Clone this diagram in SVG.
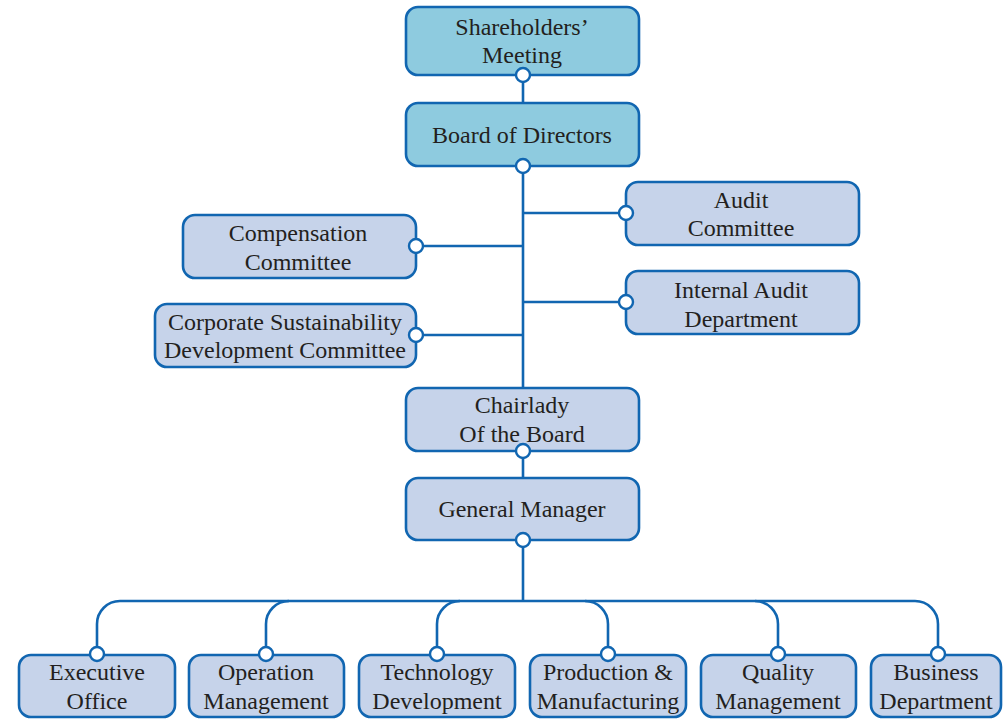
<svg xmlns="http://www.w3.org/2000/svg" width="1008" height="719" viewBox="0 0 1008 719">
<style>
.box{fill:#c6d3ea;stroke:#1166b1;stroke-width:2.6}
.top{fill:#8ecbdf}
.dot{fill:#fff;stroke:#1166b1;stroke-width:2.4}
.ln{fill:none;stroke:#1166b1;stroke-width:2.6}
text{font-family:"Liberation Serif","Times New Roman",serif;font-size:24px;fill:#231f20;text-anchor:middle}
</style>
<rect width="1008" height="719" fill="#fff"/>
<g id="connectors">
<path class="ln" d="M523,75 V103 M523,166 V388 M523,213 H626 M523,302 H626 M416,246 H523 M416,335 H523 M523,451 V478 M523,540 V601"/>
<path class="ln" d="M97,655 V624 A23,23 0 0 1 120,601 H915 A23,23 0 0 1 938,624 V655"/>
<path class="ln" d="M266,655 V624 A23,23 0 0 1 289,601 M437,655 V624 A23,23 0 0 1 460,601 M608,655 V624 A23,23 0 0 0 585,601 M778,655 V624 A23,23 0 0 0 755,601"/>
</g>
<g id="shareholders"><rect class="box top" x="406" y="7" width="233" height="68" rx="12"/><text x="522" y="35">Shareholders’</text><text x="522" y="63">Meeting</text><circle class="dot" cx="523" cy="75" r="7"/></g>
<g id="board"><rect class="box top" x="406" y="103" width="233" height="63" rx="12"/><text x="522" y="143">Board of Directors</text><circle class="dot" cx="523" cy="166" r="7"/></g>
<g id="audit"><rect class="box" x="626" y="182" width="233" height="63" rx="12"/><text x="741" y="208">Audit</text><text x="741" y="236">Committee</text><circle class="dot" cx="626" cy="213" r="7"/></g>
<g id="compensation"><rect class="box" x="183" y="215" width="233" height="63" rx="12"/><text x="298" y="241">Compensation</text><text x="298" y="270">Committee</text><circle class="dot" cx="416" cy="246" r="7"/></g>
<g id="internal-audit"><rect class="box" x="626" y="271" width="233" height="63" rx="12"/><text x="741" y="298">Internal Audit</text><text x="741" y="327">Department</text><circle class="dot" cx="626" cy="302" r="7"/></g>
<g id="csd"><rect class="box" x="155" y="304" width="261" height="63" rx="12"/><text x="285" y="330">Corporate Sustainability</text><text x="285" y="358">Development Committee</text><circle class="dot" cx="416" cy="335" r="7"/></g>
<g id="chairlady"><rect class="box" x="406" y="388" width="233" height="63" rx="12"/><text x="522" y="413">Chairlady</text><text x="522" y="442">Of the Board</text><circle class="dot" cx="523" cy="451" r="7"/></g>
<g id="gm"><rect class="box" x="406" y="478" width="233" height="62" rx="12"/><text x="522" y="517">General Manager</text><circle class="dot" cx="523" cy="540" r="7"/></g>
<g id="exec"><rect class="box" x="19" y="655" width="156" height="62" rx="12"/><text x="97" y="680">Executive</text><text x="97" y="709">Office</text><circle class="dot" cx="97" cy="654" r="7"/></g>
<g id="operation"><rect class="box" x="189" y="655" width="155" height="62" rx="12"/><text x="266" y="680">Operation</text><text x="266" y="709">Management</text><circle class="dot" cx="266" cy="654" r="7"/></g>
<g id="technology"><rect class="box" x="359" y="655" width="156" height="62" rx="12"/><text x="437" y="680">Technology</text><text x="437" y="709">Development</text><circle class="dot" cx="437" cy="654" r="7"/></g>
<g id="production"><rect class="box" x="530" y="655" width="156" height="62" rx="12"/><text x="608" y="680">Production &amp;</text><text x="608" y="709">Manufacturing</text><circle class="dot" cx="608" cy="654" r="7"/></g>
<g id="quality"><rect class="box" x="701" y="655" width="155" height="62" rx="12"/><text x="778" y="680">Quality</text><text x="778" y="709">Management</text><circle class="dot" cx="778" cy="654" r="7"/></g>
<g id="business"><rect class="box" x="871" y="655" width="130" height="62" rx="12"/><text x="936" y="680">Business</text><text x="936" y="709">Department</text><circle class="dot" cx="938" cy="654" r="7"/></g>
</svg>
